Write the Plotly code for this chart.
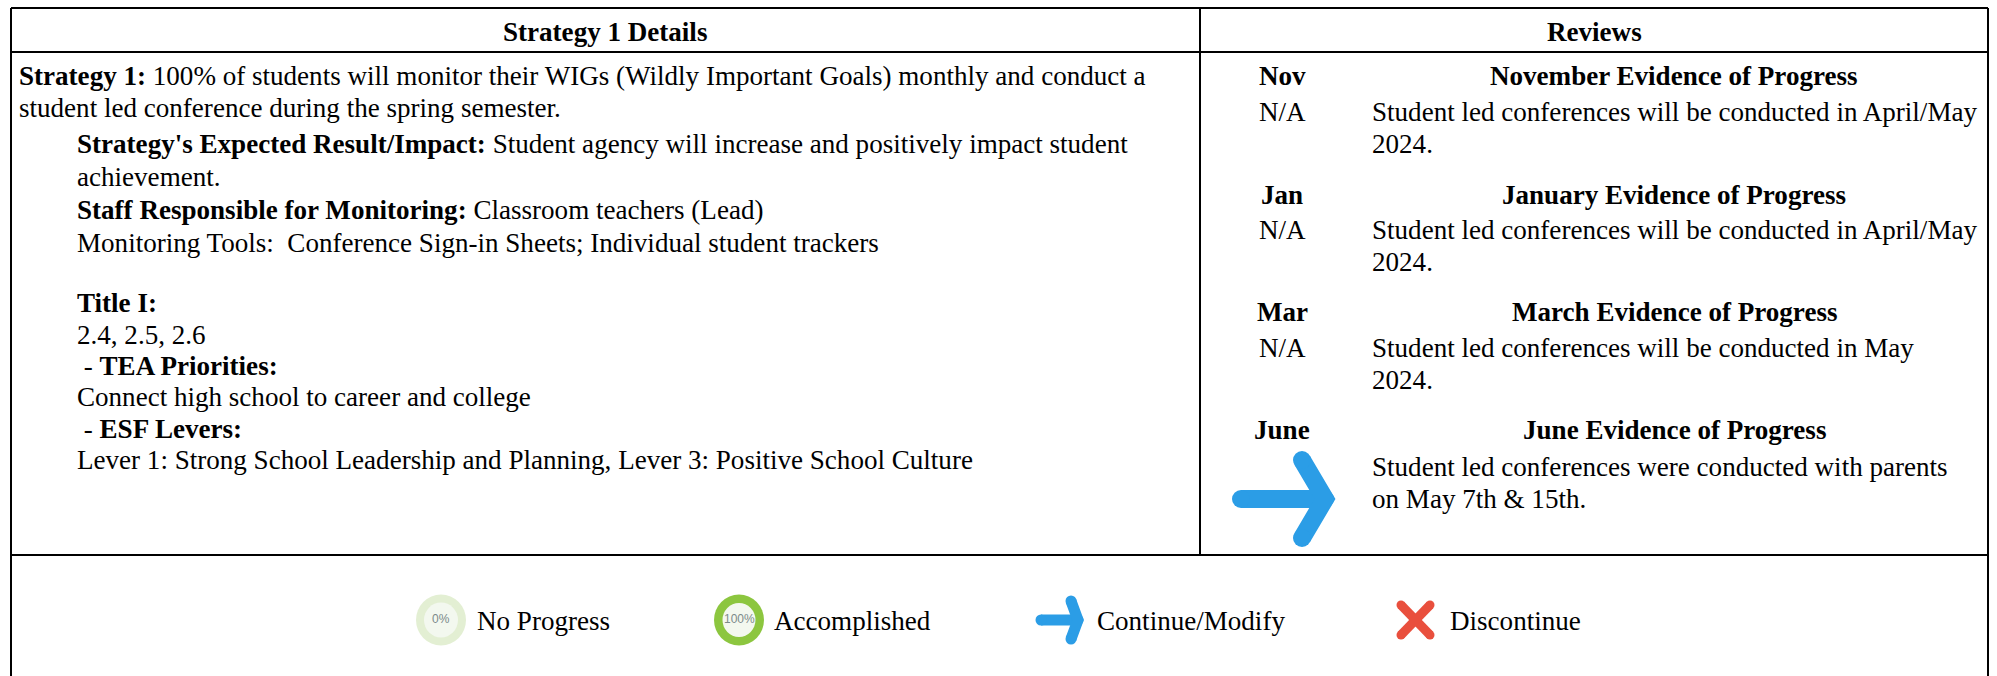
import plotly.graph_objects as go

FONT = "Liberation Serif"
SIZE = 27.07
W, H = 1997, 676

header_labels = ["Strategy 1 Details", "Reviews"]
left_lines = [
    "<b>Strategy 1:</b> 100% of students will monitor their WIGs (Wildly Important Goals) monthly and conduct a",
    "student led conference during the spring semester.",
    "<b>Strategy's Expected Result/Impact:</b> Student agency will increase and positively impact student",
    "achievement.",
    "<b>Staff Responsible for Monitoring:</b> Classroom teachers (Lead)",
    "Monitoring Tools:  Conference Sign-in Sheets; Individual student trackers",
    "<b>Title I:</b>",
    "2.4, 2.5, 2.6",
    " - <b>TEA Priorities:</b>",
    "Connect high school to career and college",
    " - <b>ESF Levers:</b>",
    "Lever 1: Strong School Leadership and Planning, Lever 3: Positive School Culture",
]
review_months = ["Nov", "Jan", "Mar", "June"]
review_status = ["N/A", "N/A", "N/A", ""]
review_titles = ["November Evidence of Progress", "January Evidence of Progress",
                 "March Evidence of Progress", "June Evidence of Progress"]
review_text = [
    ["Student led conferences will be conducted in April/May", "2024."],
    ["Student led conferences will be conducted in April/May", "2024."],
    ["Student led conferences will be conducted in May", "2024."],
    ["Student led conferences were conducted with parents", "on May 7th &amp; 15th."],
]
legend_labels = ["No Progress", "Accomplished", "Continue/Modify", "Discontinue"]

# layout positions (page pixels)
left_xy = [(17, 76), (17, 108), (75, 144), (75, 177), (75, 210), (75, 243),
           (75, 303), (75, 335), (75, 366), (75, 397), (75, 429), (75, 460)]
review_y = [(76, 112, 144), (195, 230, 262), (312, 348, 380), (430, 467, 499)]
legend_x = [475, 772, 1095, 1448]
LEGEND_Y = 621

fig = go.Figure()
ann, shp = [], []

def text(x, y, s, anchor="left", size=SIZE, color="#000000", family=FONT):
    ann.append(dict(x=x, y=y, text=s, showarrow=False, xanchor=anchor, yanchor="middle",
                    xref="x", yref="y", align=anchor,
                    font=dict(family=family, size=size, color=color)))

def rule(x0, y0, x1, y1, w=2):
    shp.append(dict(type="line", x0=x0, y0=y0, x1=x1, y1=y1, line=dict(color="#000000", width=w)))

def dot(x, y, rx, ry, color):
    shp.append(dict(type="circle", x0=x-rx, x1=x+rx, y0=y-ry, y1=y+ry,
                    fillcolor=color, line=dict(width=0), layer="above"))

def stroke(pts, w, color):
    d = "M" + " L".join(f"{a} {b}" for a, b in pts)
    shp.append(dict(type="path", path=d, line=dict(color=color, width=w), layer="above"))
    for a, b in (pts[0], pts[-1]):
        dot(a, b, w/2, w/2, color)

def arrow(x0, xtip, xh, y, dy, w, color):
    stroke([(x0, y), (xtip, y)], w, color)
    stroke([(xh, y-dy), (xtip, y), (xh, y+dy)], w, color)

# table rules
L, R, T, M, C, B = 11, 1988, 8, 52, 1200, 555
rule(L, T, R, T); rule(L, M, R, M); rule(L, B, R, B)
rule(L, T, L, H); rule(R, T, R, H); rule(C, T, C, B)

text((L+C)/2 - 1, 32, f"<b>{header_labels[0]}</b>", "center")
text((C+R)/2, 32, f"<b>{header_labels[1]}</b>", "center")
for (x, y), s in zip(left_xy, left_lines):
    text(x, y, s)

for i, (y0, y1, y2) in enumerate(review_y):
    text(1282, y0, f"<b>{review_months[i]}</b>", "center")
    text(1674, y0, f"<b>{review_titles[i]}</b>", "center")
    if review_status[i]:
        text(1282, y1, review_status[i], "center")
    text(1370, y1, review_text[i][0])
    text(1370, y2, review_text[i][1])

arrow(1241, 1325, 1302, 499, 39, 18, "#2B9DE6")

# legend
dot(441, 620, 25, 25.5, "#E3EFD3"); dot(441, 620, 17, 17.5, "#F3F8EF")
text(441, 619, "0%", "center", 12, "#7C8A8A", "Liberation Sans")
dot(739, 620, 25, 25.5, "#8CC63F"); dot(739, 620, 16.5, 17, "#F3F8EF")
text(739, 619, "100%", "center", 12, "#7C8A8A", "Liberation Sans")
arrow(1041, 1078, 1071, 620, 19, 11, "#2B9DE6")
stroke([(1401, 605), (1430, 635)], 9, "#E94F3D")
stroke([(1430, 605), (1401, 635)], 9, "#E94F3D")
for x, s in zip(legend_x, legend_labels):
    text(x, LEGEND_Y, s)

fig.update_layout(width=W, height=H, margin=dict(l=0, r=0, t=0, b=0),
                  paper_bgcolor="white", plot_bgcolor="white",
                  xaxis=dict(range=[0, W], visible=False, fixedrange=True),
                  yaxis=dict(range=[H, 0], visible=False, fixedrange=True),
                  showlegend=False, annotations=ann, shapes=shp)
fig.write_html("out.html", config={"displayModeBar": False},
               post_script="document.body.style.margin='0';document.body.style.overflow='hidden';")
